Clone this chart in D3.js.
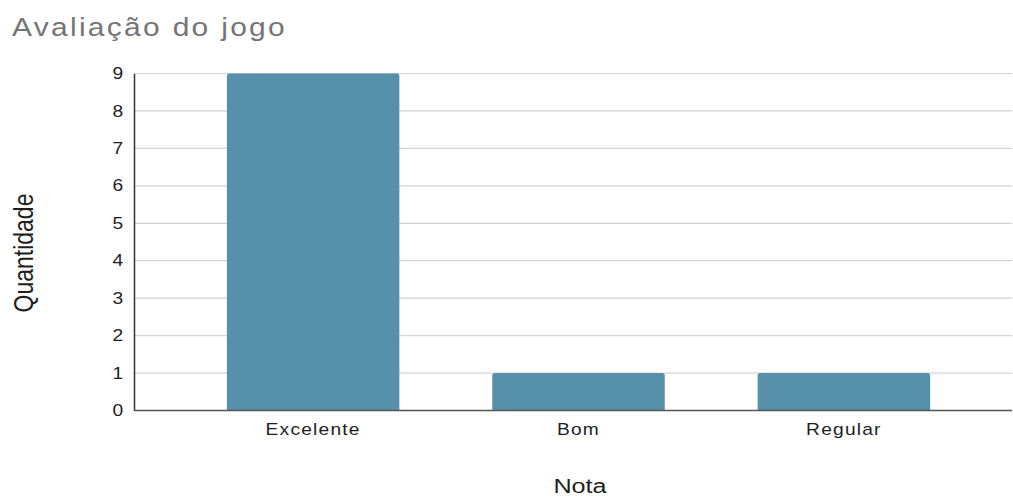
<!DOCTYPE html>
<html>
<head>
<meta charset="utf-8">
<script src="https://cdn.jsdelivr.net/npm/d3@7"></script>
<style>
  html, body { margin: 0; padding: 0; background: #fff; }
  svg { display: block; }
  svg text { font-family: 'Liberation Sans', Arial, sans-serif; }
</style>
</head>
<body>
<svg id="chart" width="1013" height="498"></svg>
<script>
// Avaliação do jogo — respostas por nota
const categories = ["Excelente", "Bom", "Regular"];
const counts = [9, 1, 1];
const yTicks = [0, 1, 2, 3, 4, 5, 6, 7, 8, 9];

const svg = d3.select("#chart");
const plot = { left: 134, right: 1012, top: 73.5, bottom: 410.5 };
const stretch = 1.2; // text is drawn slightly widened horizontally

const x = d3.scaleBand()
  .domain(categories)
  .range([plot.left, 1023])
  .paddingInner(0.35)
  .paddingOuter(0.35);

const y = d3.scaleLinear()
  .domain([0, 9])
  .range([plot.bottom, plot.top]);

// Horizontal gridlines
svg.append("g")
  .selectAll("line")
  .data(yTicks.filter(d => d > 0))
  .join("line")
  .attr("x1", plot.left)
  .attr("x2", plot.right)
  .attr("y1", d => y(d))
  .attr("y2", d => y(d))
  .attr("stroke", "#d4d4d4")
  .attr("stroke-width", 1.2);

// Bars with slightly rounded tops
svg.append("g")
  .selectAll("path")
  .data(categories.map((c, i) => ({ c, v: counts[i] })))
  .join("path")
  .attr("fill", "#5690ab")
  .attr("d", d => {
    const x0 = x(d.c), w = x.bandwidth();
    const y0 = y(d.v), y1 = y(0), r = 2.5;
    return `M${x0},${y1}V${y0 + r}Q${x0},${y0} ${x0 + r},${y0}H${x0 + w - r}Q${x0 + w},${y0} ${x0 + w},${y0 + r}V${y1}Z`;
  });

// Y axis
const yAxis = svg.append("g")
  .attr("transform", `translate(${plot.left},0)`)
  .call(d3.axisLeft(y).tickValues(yTicks).tickSize(0).tickPadding(9).tickFormat(d3.format("d")));
yAxis.attr("font-family", null);
yAxis.select(".domain").attr("stroke", "#333").attr("stroke-width", 1.5);
yAxis.selectAll("text")
  .attr("font-size", 16)
  .attr("fill", "#1e1e1e")
  .attr("transform", `scale(${stretch},1)`);

// X axis
const xAxis = svg.append("g")
  .attr("transform", `translate(0,${plot.bottom})`)
  .call(d3.axisBottom(x).tickSize(0));
xAxis.attr("font-family", null);
xAxis.select(".domain").remove();
xAxis.selectAll("text")
  .attr("font-size", 16)
  .attr("fill", "#1e1e1e")
  .attr("letter-spacing", "1px")
  .attr("y", 24.5)
  .attr("dy", 0)
  .attr("transform", `scale(${stretch},1)`);

// Baseline
svg.append("line")
  .attr("x1", plot.left).attr("x2", plot.right)
  .attr("y1", y(0)).attr("y2", y(0))
  .attr("stroke", "#555").attr("stroke-width", 1.6);

// Title
svg.append("text")
  .attr("transform", `translate(12,36) scale(${stretch},1)`)
  .attr("font-size", 25)
  .attr("letter-spacing", "1.9px")
  .attr("fill", "#757575")
  .text("Avaliação do jogo");

// Axis titles
svg.append("text")
  .attr("transform", `translate(580,493) scale(${stretch},1)`)
  .attr("text-anchor", "middle")
  .attr("font-size", 21)
  .attr("fill", "#1e1e1e")
  .text("Nota");

svg.append("text")
  .attr("transform", `translate(33,253) scale(${stretch},1) rotate(-90)`)
  .attr("text-anchor", "middle")
  .attr("font-size", 23)
  .attr("fill", "#1e1e1e")
  .text("Quantidade");
</script>
</body>
</html>
